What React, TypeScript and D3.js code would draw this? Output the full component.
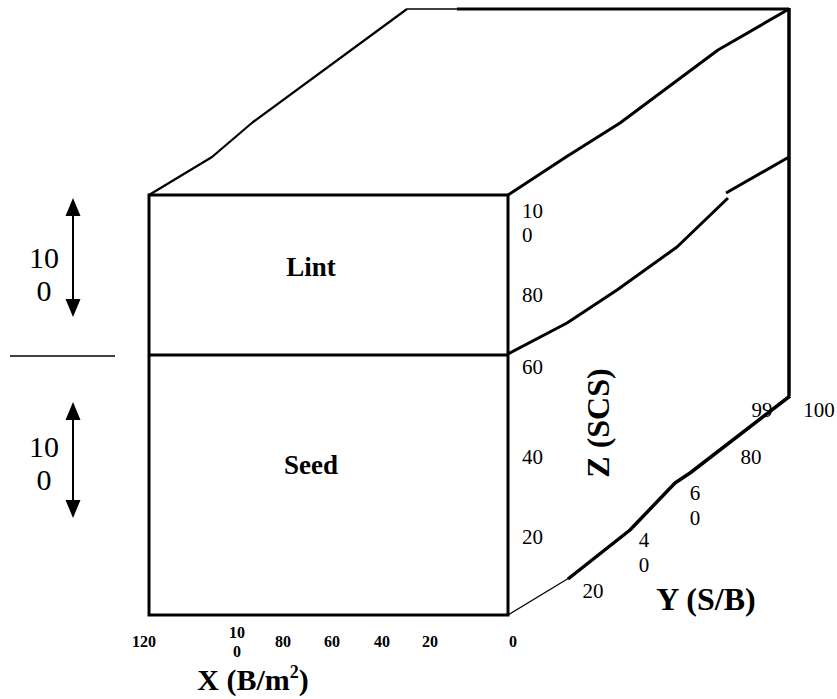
import React from "react";
import * as d3 from "d3";

// ---- data (labels) ----
const xTicks = ["120", "100", "80", "60", "40", "20", "0"];
const xTickPos = [144, 237, 283, 332, 382, 430, 513];
const zTicks = ["20", "40", "60", "80", "100"];
const zTickPos = [537, 457, 367, 295, 223];
const yTicks = ["20", "40", "60", "80", "99", "100"];
const yTickPosX = [593, 644, 695, 751, 762, 819];
const yTickPosY = [591, 552, 505, 457, 410, 410];
const sections = ["Lint", "Seed"];

const W = 837;
const H = 699;
const FONT = "'Liberation Serif', 'DejaVu Serif', serif";

// geometry of the block
const front = { x0: 149, x1: 508, y0: 195, ymid: 355, y1: 615 };
const backTopY = 9;
const rightX = 789;
const rightBottomY = 396;

const topLeftEdge: [number, number][] = [
  [149, 195], [212, 157], [253, 122], [407, 9],
];
const topRightEdge: [number, number][] = [
  [508, 195], [566, 157], [620, 123], [718, 50], [789, 9],
];
const sideDivider1: [number, number][] = [
  [508, 354], [567, 323], [617, 290], [677, 247], [728, 198],
];
const sideDivider2: [number, number][] = [
  [726, 193], [789, 157],
];
const yAxisThin: [number, number][] = [[508, 615], [569, 578]];
const yAxisThick: [number, number][] = [
  [568, 579], [630, 530], [675, 483], [690, 473], [790, 396],
];

const line = d3.line<[number, number]>();

function splitLabel(s: string): string[] {
  return s === "100" ? ["10", "0"] : [s];
}

function Arrow({ x, y0, y1 }: { x: number; y0: number; y1: number }) {
  const hw = 7.5;
  const hh = 18;
  return (
    <g>
      <line x1={x} x2={x} y1={y0 + hh} y2={y1 - hh} stroke="#000" strokeWidth={2} />
      <path d={`M${x},${y0} L${x - hw},${y0 + hh} L${x + hw},${y0 + hh} Z`} fill="#000" />
      <path d={`M${x},${y1} L${x - hw},${y1 - hh} L${x + hw},${y1 - hh} Z`} fill="#000" />
    </g>
  );
}

export default function App() {
  const zScale = d3.scaleOrdinal<string, number>().domain(zTicks).range(zTickPos);
  const xScale = d3.scaleOrdinal<string, number>().domain(xTicks).range(xTickPos);

  return (
    <svg width={W} height={H} style={{ position: "absolute", left: 0, top: 0 }} fontFamily={FONT}>
      <rect width={W} height={H} fill="#fff" />
      {/* front face */}
      <rect
        x={front.x0}
        y={front.y0}
        width={front.x1 - front.x0}
        height={front.y1 - front.y0}
        fill="none"
        stroke="#000"
        strokeWidth={3}
      />
      <line x1={front.x0} x2={front.x1} y1={front.ymid} y2={front.ymid} stroke="#000" strokeWidth={3} />

      {/* top face */}
      <path d={line(topLeftEdge)!} fill="none" stroke="#000" strokeWidth={2.2} strokeLinejoin="round" />
      <line x1={407} x2={457} y1={backTopY} y2={backTopY} stroke="#000" strokeWidth={1.5} />
      <line x1={457} x2={rightX} y1={backTopY} y2={backTopY} stroke="#000" strokeWidth={3} />
      <path d={line(topRightEdge)!} fill="none" stroke="#000" strokeWidth={3} strokeLinejoin="round" />

      {/* side face */}
      <line x1={rightX} x2={rightX} y1={backTopY - 1} y2={rightBottomY} stroke="#000" strokeWidth={3.5} />
      <path d={line(sideDivider1)!} fill="none" stroke="#000" strokeWidth={3} strokeLinejoin="round" />
      <path d={line(sideDivider2)!} fill="none" stroke="#000" strokeWidth={3} strokeLinejoin="round" />

      {/* Y axis */}
      <path d={line(yAxisThin)!} fill="none" stroke="#000" strokeWidth={1.3} />
      <path d={line(yAxisThick)!} fill="none" stroke="#000" strokeWidth={3.5} strokeLinejoin="round" />

      {/* section labels */}
      {sections.map((s, i) => (
        <text
          key={s}
          x={311}
          y={i === 0 ? 276 : 474}
          textAnchor="middle"
          fontWeight="bold"
          fontSize={27}
        >
          {s}
        </text>
      ))}

      {/* left annotations */}
      <Arrow x={73} y0={198} y1={317} />
      <Arrow x={73} y0={402} y1={518} />
      {[258, 447].map((cy, i) => (
        <g key={i} fontSize={30}>
          <text x={44} y={cy + 10} textAnchor="middle">10</text>
          <text x={44} y={cy + 43} textAnchor="middle">0</text>
        </g>
      ))}
      <line x1={10} x2={115} y1={356} y2={356} stroke="#000" strokeWidth={1.3} />

      {/* Z tick labels */}
      {zTicks.map((t) => {
        const parts = splitLabel(t);
        const cy = zScale(t);
        return (
          <g key={t} fontSize={21}>
            {parts.map((p, j) => (
              <text key={j} x={522} y={cy + 7 + (j - (parts.length - 1) / 2) * 24}>
                {p}
              </text>
            ))}
          </g>
        );
      })}
      <text
        transform="translate(609,423) rotate(-90)"
        textAnchor="middle"
        fontWeight="bold"
        fontSize={32}
      >
        Z (SCS)
      </text>

      {/* X tick labels */}
      {xTicks.map((t) => {
        const parts = splitLabel(t);
        return (
          <g key={t} fontSize={16} fontWeight="bold">
            {parts.map((p, j) => (
              <text key={j} x={xScale(t)} y={647 + (j - (parts.length - 1) / 2) * 19} textAnchor="middle">
                {p}
              </text>
            ))}
          </g>
        );
      })}
      <text x={253} y={690} textAnchor="middle" fontWeight="bold" fontSize={30}>
        X (B/m<tspan dy={-12} fontSize={18}>2</tspan>
        <tspan dy={12}>)</tspan>
      </text>

      {/* Y tick labels */}
      {yTicks.map((t, i) => {
        const multi = t === "40" || t === "60";
        const parts = multi ? t.split("") : [t];
        return (
          <g key={t} fontSize={21}>
            {parts.map((p, j) => (
              <text
                key={j}
                x={yTickPosX[i]}
                y={yTickPosY[i] + 7 + (j - (parts.length - 1) / 2) * 25}
                textAnchor="middle"
              >
                {p}
              </text>
            ))}
          </g>
        );
      })}
      <text x={706} y={610} textAnchor="middle" fontWeight="bold" fontSize={32}>
        Y (S/B)
      </text>
    </svg>
  );
}
